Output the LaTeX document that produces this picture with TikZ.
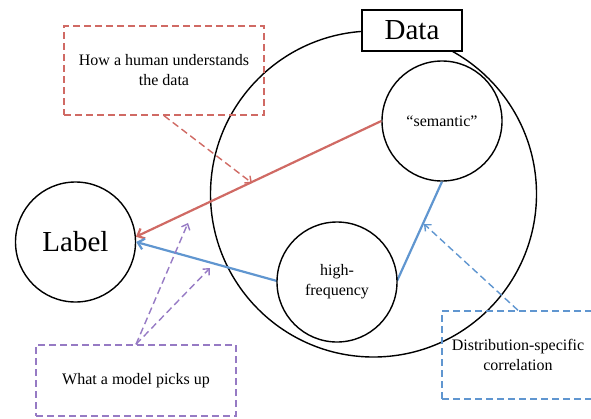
\documentclass[tikz,border=0pt]{standalone}
\usepackage{fontspec}
\setmainfont{Liberation Serif}
\usepackage{xcolor}
\usetikzlibrary{arrows.meta}
\definecolor{noteRed}{RGB}{208,106,100}
\definecolor{noteBlue}{RGB}{96,150,208}
\definecolor{notePurple}{RGB}{150,122,196}
\newcommand{\CR}[0]{noteRed}
\newcommand{\CB}[0]{noteBlue}
\newcommand{\CP}[0]{notePurple}

\begin{document}
\begin{tikzpicture}[x=1pt, y=-1pt,
  circ/.style={draw, circle, line width=1.4pt, fill=white, inner sep=0pt, minimum size=120pt, align=center},
  note/.style={draw, dashed, dash pattern=on 7pt off 4pt, line width=1.4pt, align=center, inner sep=0pt},
  link/.style={line width=2.2pt, -{Straight Barb[length=6pt, width=11pt]}},
  hint/.style={dashed, dash pattern=on 7pt off 4pt, line width=1.4pt, -{Straight Barb[length=5pt, width=9pt]}}]

  \useasboundingbox (0, 0) rectangle (591, 418);

  \newcommand\TXT{\fontsize{16}{20}\selectfont}
  \newcommand\BIG{\fontsize{29}{34}\selectfont}

  %% the data
  \node[draw, circle, line width=1.4pt, minimum size=326pt] (data) at (373.5, 194) {};

  \node[circ, font=\BIG] (lab) at (75.5, 242) {Label};
  \node[circ, font=\TXT] (sem) at (442, 121) {``semantic''};

  %% links to the label
  \draw[link, draw=\CR] (sem.west) -- (lab.5);
  \draw[line width=2.2pt, draw=\CB] (sem.south) -- (397, 281);
  \draw[link, draw=\CB] (277, 281) -- (lab.east);

  \node[circ, font=\TXT] (hf) at (337, 282) {high-\\frequency};

  \node[draw, line width=1.4pt, fill=white, minimum width=100pt, minimum height=41pt, font=\BIG] (title) at (412, 30.5) {Data};

  %% notes
  \node[note, draw=\CR, minimum width=200pt, minimum height=89pt, font=\TXT] (human) at (164, 70.5) {How a human understands\\the data};
  \node[note, draw=\CP, minimum width=200pt, minimum height=71pt, font=\TXT] (model) at (136, 380.5) {What a model picks up};
  \node[note, draw=\CB, minimum width=152pt, minimum height=88pt, font=\TXT] (corr) at (518, 355) {Distribution-specific\\correlation};

  \coordinate (hitR) at (252, 183);
  \coordinate (hitP1) at (188, 223);
  \coordinate (hitP2) at (210, 268);
  \coordinate (hitB) at (424, 224);

  \draw[hint, draw=\CR] (human.south) -- (hitR);
  \draw[hint, draw=\CP] (model.north) -- (hitP1);
  \draw[hint, draw=\CP] (model.north) -- (hitP2);
  \draw[hint, draw=\CB] (corr.north) -- (hitB);

\end{tikzpicture}
\end{document}
